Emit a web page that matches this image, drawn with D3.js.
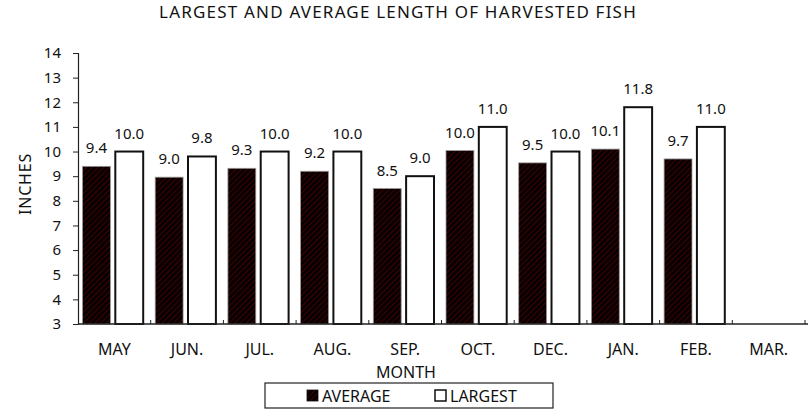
<!DOCTYPE html>
<html>
<head>
<meta charset="utf-8">
<script src="https://cdn.jsdelivr.net/npm/d3@7"></script>
<style>
  body { margin: 0; background: #fff; }
  text { font-family: "Noto Sans", sans-serif; fill: #111; }
</style>
</head>
<body>
<svg id="chart" width="808" height="409"></svg>
<script>
// data
var months = ["MAY", "JUN.", "JUL.", "AUG.", "SEP.", "OCT.", "DEC.", "JAN.", "FEB.", "MAR."];
var average = [9.4, 8.96, 9.32, 9.2, 8.5, 10.04, 9.54, 10.1, 9.7, null];
var largest = [10.0, 9.8, 10.0, 10.0, 9.0, 11.0, 10.0, 11.8, 11.0, null];
var yTicks = [3, 4, 5, 6, 7, 8, 9, 10, 11, 12, 13, 14];
var seriesNames = ["AVERAGE", "LARGEST"];

var svg = d3.select("#chart");

// hatch pattern for the average bars
var defs = svg.append("defs");
var pat = defs.append("pattern")
    .attr("id", "hatch")
    .attr("patternUnits", "userSpaceOnUse")
    .attr("width", 4).attr("height", 4)
    .attr("patternTransform", "rotate(45)");
pat.append("rect").attr("width", 4).attr("height", 4).attr("fill", "#080000");
pat.append("line").attr("x1", 0).attr("y1", 0).attr("x2", 0).attr("y2", 4)
    .attr("stroke", "#4a0303").attr("stroke-width", 1.6);

var plotL = 78, plotR = 805, plotT = 53, plotB = 324;

var x = d3.scaleBand().domain(months).range([plotL, plotR]);
var x1 = d3.scaleBand().domain(seriesNames).range([4.5, x.bandwidth() - 7.5]).paddingInner(0.15);
var y = d3.scaleLinear().domain([3, 14]).range([plotB, plotT]);

// title
svg.append("text")
    .attr("x", 398).attr("y", 18)
    .attr("text-anchor", "middle")
    .style("font-size", "17px")
    .style("letter-spacing", "1.2px")
    .text("LARGEST AND AVERAGE LENGTH OF HARVESTED FISH");

// y axis
var yAxis = d3.axisLeft(y).tickValues(yTicks).tickSize(5).tickPadding(12).tickFormat(d3.format("d"));
var yg = svg.append("g").attr("transform", "translate(" + plotL + ",0)").call(yAxis);
yg.select(".domain").attr("stroke", "#222").attr("stroke-width", 1.2);
yg.selectAll(".tick line").attr("stroke", "#222");
yg.selectAll("text").style("font-size", "15px").style("font-family", "Noto Sans").attr("fill", "#111");

svg.append("text")
    .attr("transform", "translate(31,184) rotate(-90)")
    .attr("text-anchor", "middle")
    .style("font-size", "16px")
    .style("letter-spacing", "0.8px")
    .text("INCHES");

// bars
var groups = svg.selectAll(".grp")
    .data(months)
    .enter().append("g")
    .attr("class", "grp")
    .attr("transform", function (d) { return "translate(" + x(d) + ",0)"; });

groups.each(function (m, i) {
    var g = d3.select(this);
    var vals = [average[i], largest[i]];
    vals.forEach(function (v, j) {
        if (v == null) return;
        var bx = x1(seriesNames[j]);
        g.append("rect")
            .attr("x", bx)
            .attr("y", y(v))
            .attr("width", x1.bandwidth())
            .attr("height", y(3) - y(v))
            .attr("fill", j === 0 ? "url(#hatch)" : "#fff")
            .attr("stroke", j === 0 ? "#999" : "#111")
            .attr("stroke-width", j === 0 ? 0.8 : 2);
        g.append("text")
            .attr("x", bx + x1.bandwidth() / 2)
            .attr("y", y(v) - 13)
            .attr("text-anchor", "middle")
            .style("font-size", "15px")
            .text(v.toFixed(1));
    });
});

// x axis
var xg = svg.append("g").attr("transform", "translate(0," + plotB + ")");
xg.append("line").attr("x1", plotL).attr("x2", 808).attr("y1", 0).attr("y2", 0)
    .attr("stroke", "#222").attr("stroke-width", 1.5);
var bounds = months.map(function (m) { return x(m) + x.bandwidth(); });
xg.selectAll(".bt").data(bounds).enter().append("line")
    .attr("x1", function (d) { return d; }).attr("x2", function (d) { return d; })
    .attr("y1", 0).attr("y2", -4)
    .attr("stroke", "#222");
xg.selectAll(".lbl").data(months).enter().append("text")
    .attr("x", function (d) { return x(d) + x.bandwidth() / 2; })
    .attr("y", 31)
    .attr("text-anchor", "middle")
    .style("font-size", "16px")
    .text(function (d) { return d; });

svg.append("text")
    .attr("x", 406).attr("y", 378)
    .attr("text-anchor", "middle")
    .style("font-size", "16px")
    .text("MONTH");

// legend
var leg = svg.append("g").attr("transform", "translate(265,383)");
leg.append("rect").attr("width", 288).attr("height", 25)
    .attr("fill", "#fff").attr("stroke", "#222").attr("stroke-width", 1.2);
var legX = [42, 170];
seriesNames.forEach(function (s, j) {
    leg.append("rect")
        .attr("x", legX[j]).attr("y", 7)
        .attr("width", 11).attr("height", 11)
        .attr("fill", j === 0 ? "url(#hatch)" : "#fff")
        .attr("stroke", "#111").attr("stroke-width", j === 0 ? 0.8 : 1.5);
    leg.append("text")
        .attr("x", legX[j] + 15).attr("y", 19)
        .style("font-size", "16px")
        .text(s);
});
</script>
</body>
</html>
